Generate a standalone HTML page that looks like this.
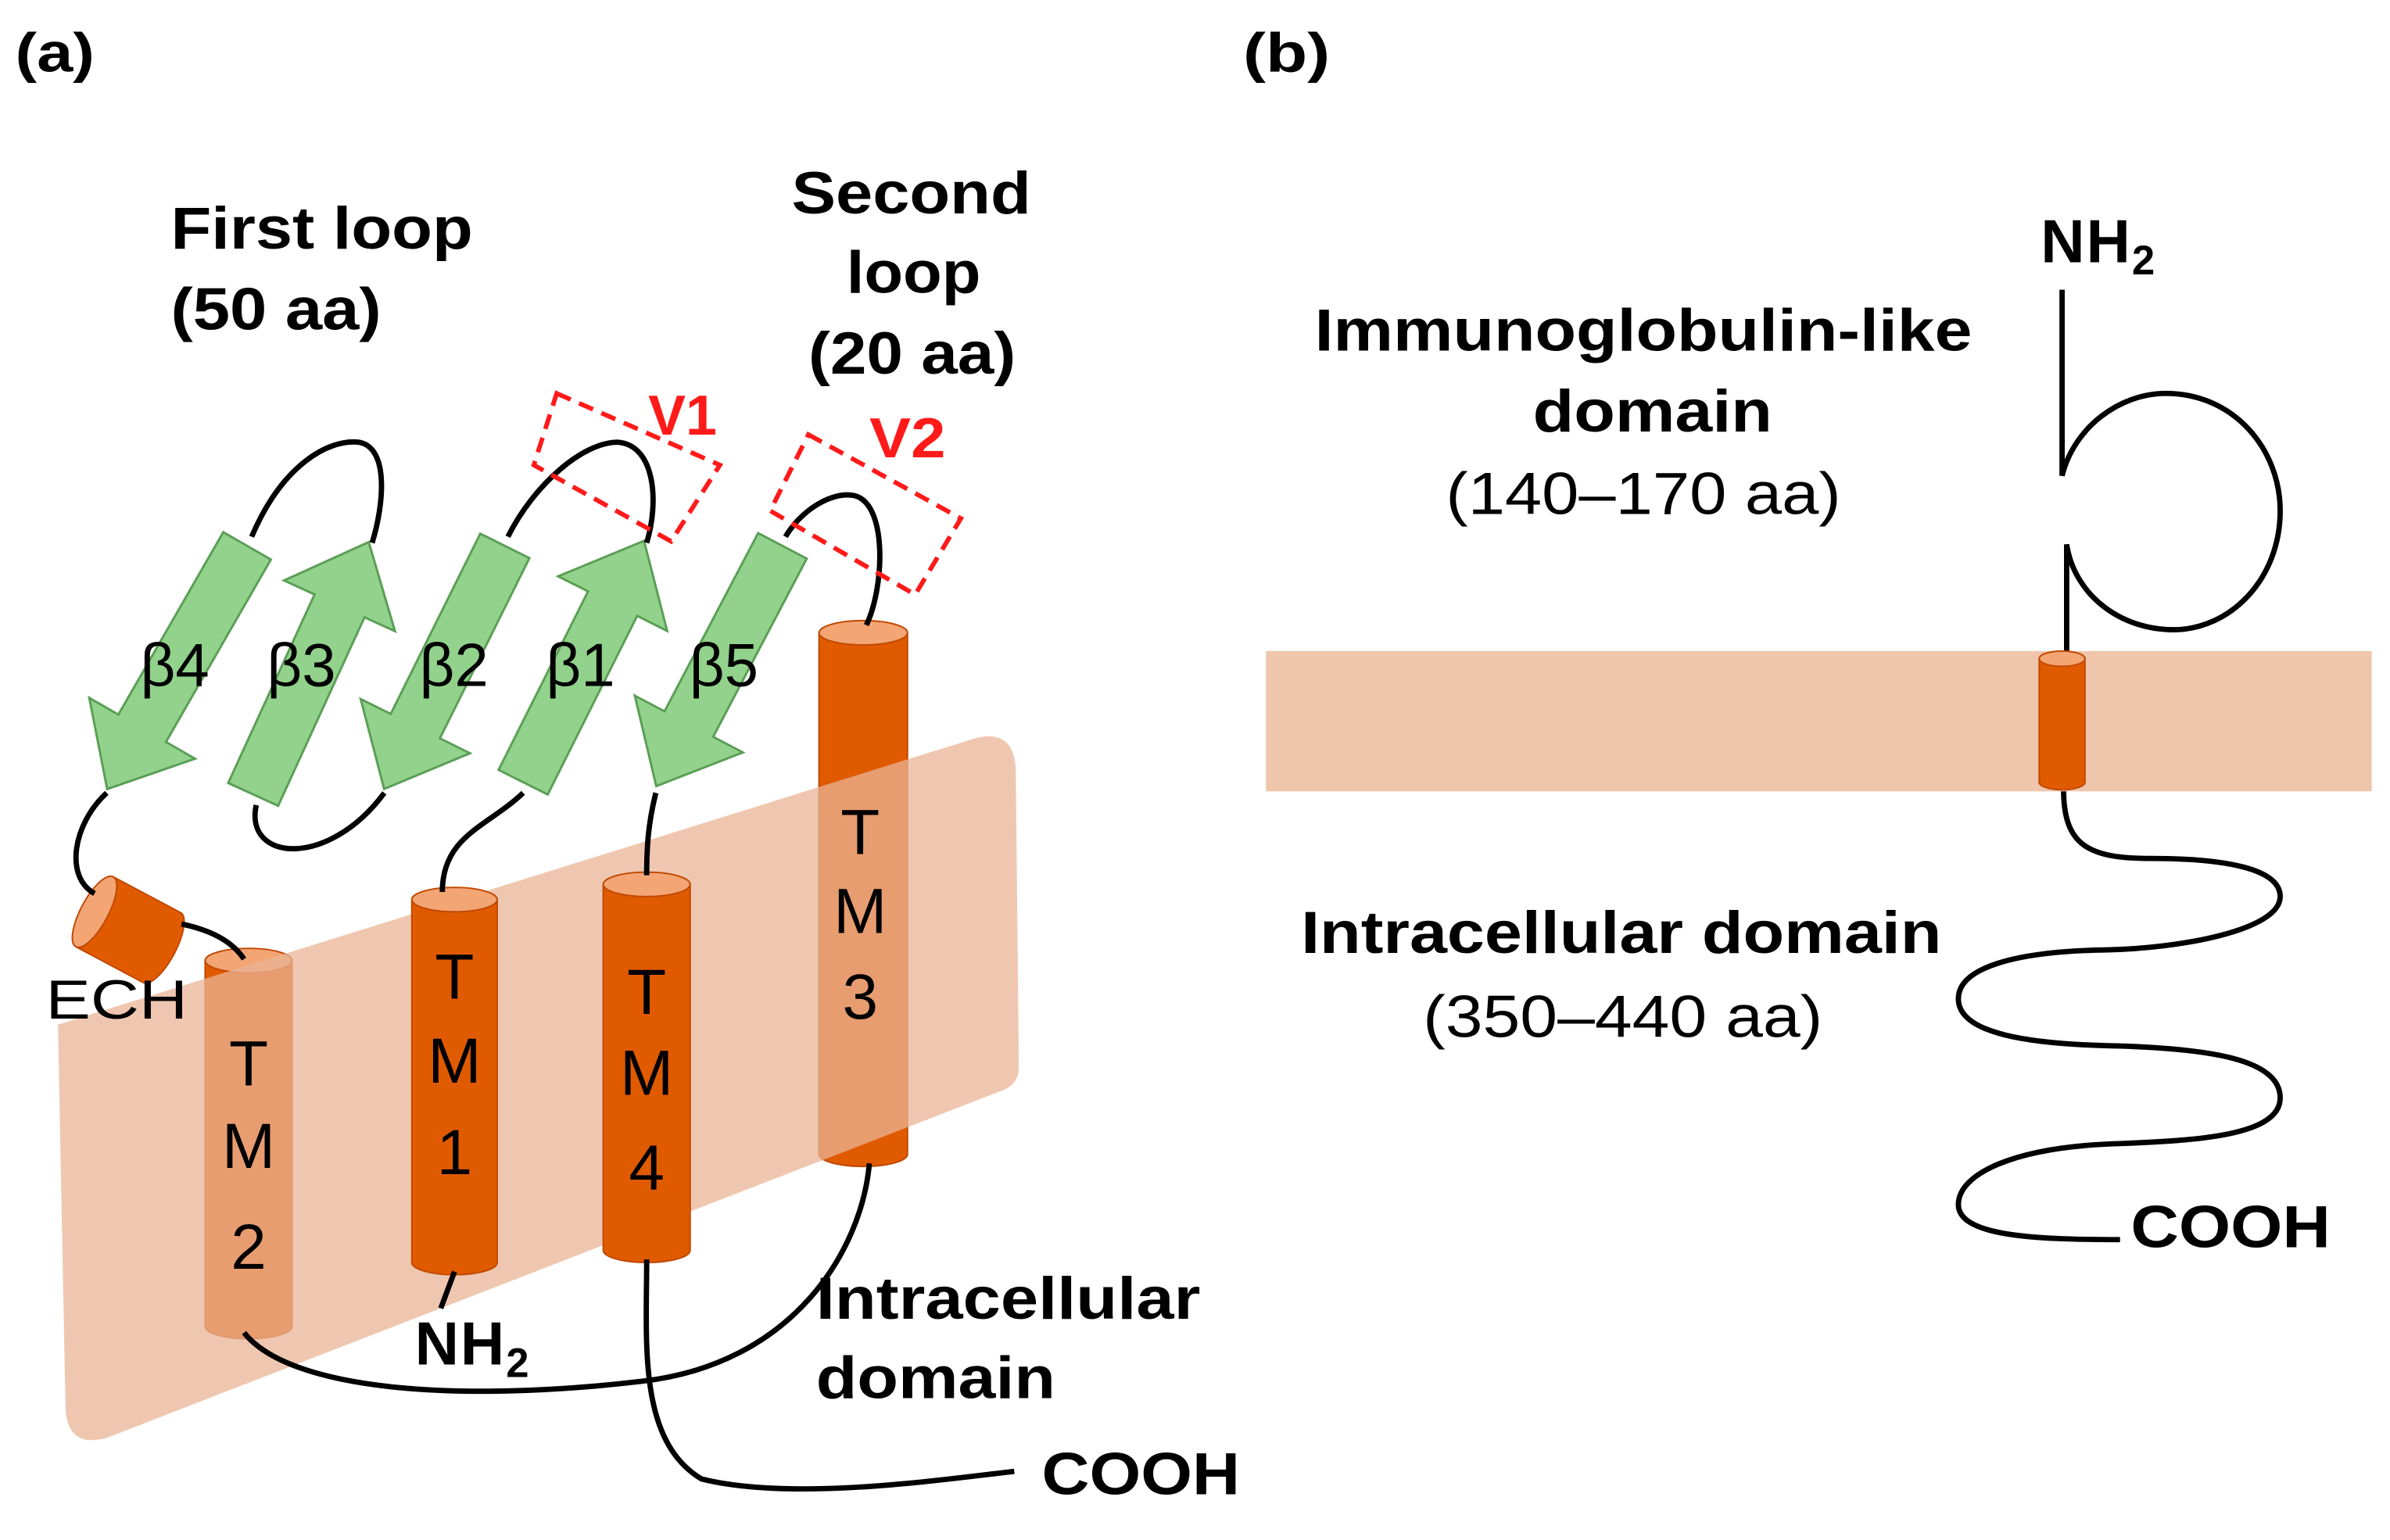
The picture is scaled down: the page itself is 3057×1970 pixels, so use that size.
<!DOCTYPE html>
<html><head><meta charset="utf-8"><style>
html,body{margin:0;padding:0;background:#fff;}
svg{display:block;}
text{font-family:"Liberation Sans",Arial,sans-serif;}
.b{font-weight:bold;}
</style></head><body>
<svg width="3057" height="1970" viewBox="0 0 1567 1010" preserveAspectRatio="none" xmlns="http://www.w3.org/2000/svg">
<rect width="1567" height="1010" fill="#fff"/>
<!-- Panel a -->
<text x="10" y="47" font-size="36" class="b" textLength="52" lengthAdjust="spacingAndGlyphs">(a)</text>
<text x="112" y="163" font-size="39" class="b" textLength="198" lengthAdjust="spacingAndGlyphs">First loop</text>
<text x="112" y="216" font-size="39" class="b" textLength="138" lengthAdjust="spacingAndGlyphs">(50 aa)</text>
<text x="519" y="140" font-size="39" class="b" textLength="157" lengthAdjust="spacingAndGlyphs">Second</text>
<text x="555" y="192" font-size="39" class="b" textLength="88" lengthAdjust="spacingAndGlyphs">loop</text>
<text x="530" y="245" font-size="39" class="b" textLength="136" lengthAdjust="spacingAndGlyphs">(20 aa)</text>

<!-- TM2 and TM3 (behind membrane) -->
<g stroke="#c04800" stroke-width="1">
<path d="M134.5,630 V870 A28.5,8 0 0 0 191.5,870 V630 Z" fill="#e05a00"/>
<ellipse cx="163" cy="630" rx="28.5" ry="8" fill="#f3a574"/>
<path d="M537,415 V757 A29,8 0 0 0 595,757 V415 Z" fill="#e05a00"/>
<ellipse cx="566" cy="415" rx="29" ry="8" fill="#f3a574"/>
</g>

<!-- membrane band -->
<path d="M38,672 L640,484 Q665,478 666,505 L668,700 Q668,712 655,716 L70,943 Q45,950 43,925 Z" fill="#eab496" opacity="0.75"/>

<!-- TM1 and TM4 -->
<g stroke="#c04800" stroke-width="1">
<path d="M270,590 V828 A28,8 0 0 0 326,828 V590 Z" fill="#e05a00"/>
<ellipse cx="298" cy="590" rx="28" ry="8" fill="#f3a574"/>
<path d="M395.5,580 V820 A28.5,8 0 0 0 452.5,820 V580 Z" fill="#e05a00"/>
<ellipse cx="424" cy="580" rx="28.5" ry="8" fill="#f3a574"/>
</g>

<!-- ECH -->
<g transform="translate(62,598) rotate(28)" stroke="#c04800" stroke-width="1">
<path d="M0,-26 H50 A9,26 0 0 1 50,26 H0 Z" fill="#e05a00"/>
<ellipse cx="0" cy="0" rx="9" ry="26" fill="#f3a574"/>
</g>
<text x="30" y="668" font-size="36" textLength="93" lengthAdjust="spacingAndGlyphs">ECH</text>

<!-- TM labels -->
<g font-size="42" text-anchor="middle">
<text x="163" y="712">T</text><text x="163" y="766">M</text><text x="163" y="832">2</text>
<text x="298" y="655">T</text><text x="298" y="710">M</text><text x="298" y="770">1</text>
<text x="424" y="665">T</text><text x="424" y="718">M</text><text x="424" y="780">4</text>
<text x="564" y="560">T</text><text x="564" y="612">M</text><text x="564" y="668">3</text>
</g>

<!-- beta arrows -->
<g fill="#92d28c" stroke="#5a9e55" stroke-width="1.5">
<path transform="translate(162,358) rotate(119.9)" d="M0,-18 L138,-18 L138,-40 L184,0 L138,40 L138,18 L0,18Z"/>
<path transform="translate(166,521) rotate(-65.4)" d="M0,-18 L136,-18 L136,-40 L182,0 L136,40 L136,18 L0,18Z"/>
<path transform="translate(331,358) rotate(116.4)" d="M0,-18 L132,-18 L132,-40 L178,0 L132,40 L132,18 L0,18Z"/>
<path transform="translate(343,513) rotate(-63.4)" d="M0,-18 L131,-18 L131,-40 L177,0 L131,40 L131,18 L0,18Z"/>
<path transform="translate(513,358) rotate(117.7)" d="M0,-18 L132,-18 L132,-40 L178,0 L132,40 L132,18 L0,18Z"/>
</g>
<g font-size="40">
<text x="92" y="450">β4</text><text x="175" y="450">β3</text><text x="275" y="450">β2</text>
<text x="358" y="450">β1</text><text x="452" y="450">β5</text>
</g>

<!-- loops -->
<g fill="none" stroke="#000" stroke-width="3.5">
<path d="M165,352 C185,305 215,288 235,290 C255,293 252,330 244,356"/>
<path d="M168,528 C160,565 215,570 252,520"/>
<path d="M333,352 C350,318 382,290 405,290 C430,292 432,330 424,356"/>
<path d="M343,520 C320,542 290,548 290,585"/>
<path d="M515,352 C525,335 545,322 560,325 C582,330 580,385 568,410"/>
<path d="M430,520 C425,540 424,555 424,574"/>
<path d="M70,520 C48,540 42,575 62,586"/>
<path d="M119,606 C138,610 152,617 160,629"/>
<path d="M160,874 C190,912 300,920 420,906 C520,895 565,820 570,763"/>
<path d="M298,834 L289,858"/>
<path d="M424,826 C424,880 418,945 460,970 C520,985 620,970 665,965"/>
<path d="M1352,190 V312 C1360,280 1390,258 1420,258 C1465,258 1495,295 1495,335 C1495,380 1462,413 1425,413 C1390,413 1360,390 1355,357 V432" />
<path d="M1353,518 C1353,555 1370,563 1410,563 C1460,563 1495,570 1495,588 C1495,610 1430,622 1380,623 C1320,624 1284,635 1284,655 C1284,678 1330,685 1390,686 C1450,688 1495,695 1495,720 C1495,745 1440,748 1390,750 C1320,752 1284,770 1284,790 C1284,810 1330,813 1390,813"/>
</g>

<!-- V boxes -->
<g fill="none" stroke="#ff1a1a" stroke-width="3" stroke-dasharray="10,6">
<polygon points="365,258 472,305 440,355 350,305"/>
<polygon points="530,285 630,340 600,390 505,335"/>
</g>
<text x="425" y="285" font-size="37" class="b" fill="#ff1a1a" textLength="45" lengthAdjust="spacingAndGlyphs">V1</text>
<text x="570" y="300" font-size="37" class="b" fill="#ff1a1a" textLength="50" lengthAdjust="spacingAndGlyphs">V2</text>

<text x="272" y="895" font-size="40" class="b" letter-spacing="1">NH<tspan font-size="27" dy="8">2</tspan></text>
<text x="535" y="865" font-size="39" class="b" textLength="252" lengthAdjust="spacingAndGlyphs">Intracellular</text>
<text x="535" y="917" font-size="39" class="b" textLength="157" lengthAdjust="spacingAndGlyphs">domain</text>
<text x="683" y="980" font-size="39" class="b" textLength="130" lengthAdjust="spacingAndGlyphs">COOH</text>

<!-- Panel b -->
<text x="815" y="47" font-size="36" class="b" textLength="57" lengthAdjust="spacingAndGlyphs">(b)</text>
<rect x="830" y="427" width="725" height="92" fill="#efc5ab"/>
<g stroke="#c04800" stroke-width="1">
<path d="M1337,432 V513 A15,5 0 0 0 1367,513 V432 Z" fill="#e05a00"/>
<ellipse cx="1352" cy="432" rx="15" ry="5" fill="#f3a574"/>
</g>
<text x="1338" y="172" font-size="40" class="b" letter-spacing="1">NH<tspan font-size="27" dy="8">2</tspan></text>
<text x="862" y="230" font-size="39" class="b" textLength="431" lengthAdjust="spacingAndGlyphs">Immunoglobulin-like</text>
<text x="1005" y="283" font-size="39" class="b" textLength="157" lengthAdjust="spacingAndGlyphs">domain</text>
<text x="948" y="337" font-size="39" textLength="259" lengthAdjust="spacingAndGlyphs">(140–170 aa)</text>
<text x="853" y="625" font-size="39" class="b" textLength="420" lengthAdjust="spacingAndGlyphs">Intracellular domain</text>
<text x="933" y="680" font-size="39" textLength="262" lengthAdjust="spacingAndGlyphs">(350–440 aa)</text>
<text x="1397" y="818" font-size="39" class="b" textLength="131" lengthAdjust="spacingAndGlyphs">COOH</text>
</svg>
</body></html>
